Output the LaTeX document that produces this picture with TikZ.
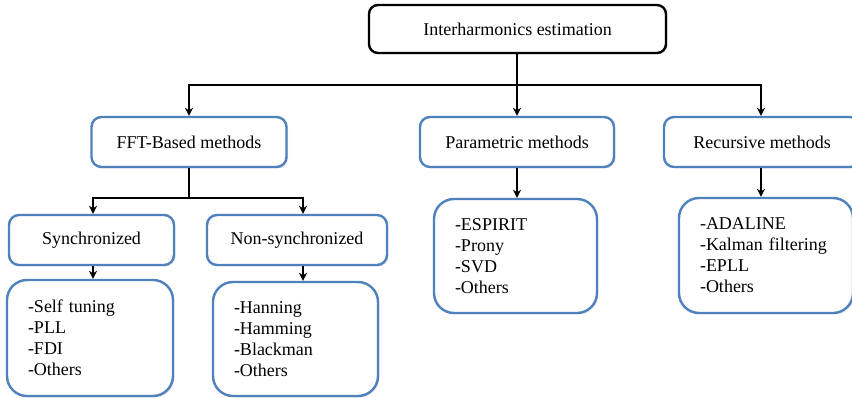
\documentclass[tikz,border=0pt]{standalone}
\usepackage{fontspec}
\setmainfont{Liberation Serif}
\usetikzlibrary{arrows.meta,shadows}
\definecolor{boxblue}{RGB}{79,129,189}
\tikzset{
  txt/.style={font=\fontsize{18}{21}\selectfont},
  topbox/.style={draw=black, line width=2.4pt, rounded corners=9pt, fill=white, txt, inner sep=0pt,
     drop shadow={opacity=0.2, shadow xshift=1.5pt, shadow yshift=-1.5pt}},
  bluebox/.style={draw=boxblue, line width=2.4pt, rounded corners=10pt, fill=white, txt, inner sep=0pt,
     drop shadow={opacity=0.2, shadow xshift=1.5pt, shadow yshift=-1.5pt}},
  listbox/.style={bluebox, rounded corners=20pt, align=left, inner xsep=21pt, inner ysep=0pt},
  conn/.style={line width=1.6pt, draw=black},
  arr/.style={conn, -{Stealth[length=8pt,width=8pt]}},
}
\begin{document}
\begin{tikzpicture}[x=1pt,y=-1pt]
\useasboundingbox (0,0) rectangle (852,398);
\fill[white] (0,0) rectangle (852,398);
% top
\node[topbox, minimum width=297, minimum height=48] (top) at (517.5,29) {Interharmonics estimation};
% level 1
\node[bluebox, minimum width=195, minimum height=50] (fft) at (189,142) {FFT-Based methods};
\node[bluebox, minimum width=194, minimum height=50] (par) at (517,142) {Parametric methods};
\node[bluebox, minimum width=196, minimum height=50] (rec) at (762,142) {Recursive methods};
% level 2
\node[bluebox, minimum width=165, minimum height=50] (syn) at (91.5,240) {Synchronized};
\node[bluebox, minimum width=180, minimum height=50] (nsy) at (297,240) {Non-synchronized};
% lists
\node[listbox, text width=124, minimum height=116] (synl) at (90,338) {-Self tuning\\-PLL\\-FDI\\-Others};
\node[listbox, text width=123, minimum height=114] (nsyl) at (295.5,339) {-Hanning\\-Hamming\\-Blackman\\-Others};
\node[listbox, text width=121, minimum height=114] (parl) at (515.5,256) {-ESPIRIT\\-Prony\\-SVD\\-Others};
\node[listbox, text width=132, minimum height=115] (recl) at (766,255.5) {-ADALINE\\-Kalman filtering\\-EPLL\\-Others};
% connectors
\coordinate (bus) at (517,85);
\coordinate (fbus) at (189,198);
\draw[arr] ([xshift=-0.5pt]top.south) -- (par.north);
\draw[arr] (bus) -| (fft.north);
\draw[arr] (bus) -| ([xshift=-1pt]rec.north);
\draw[conn] (fft.south) -- (fbus);
\draw[arr] (fbus) -| ([xshift=1.5pt]syn.north);
\draw[arr] (fbus) -| ([xshift=6pt]nsy.north);
\draw[arr] ([xshift=1.5pt]syn.south) -- ([xshift=3pt]synl.north);
\draw[arr] ([xshift=6pt]nsy.south) -- ([xshift=7.5pt]nsyl.north);
\draw[arr] (par.south) -- ([xshift=1.5pt]parl.north);
\draw[arr] ([xshift=-1pt]rec.south) -- ([xshift=-5pt]recl.north);
\end{tikzpicture}
\end{document}
